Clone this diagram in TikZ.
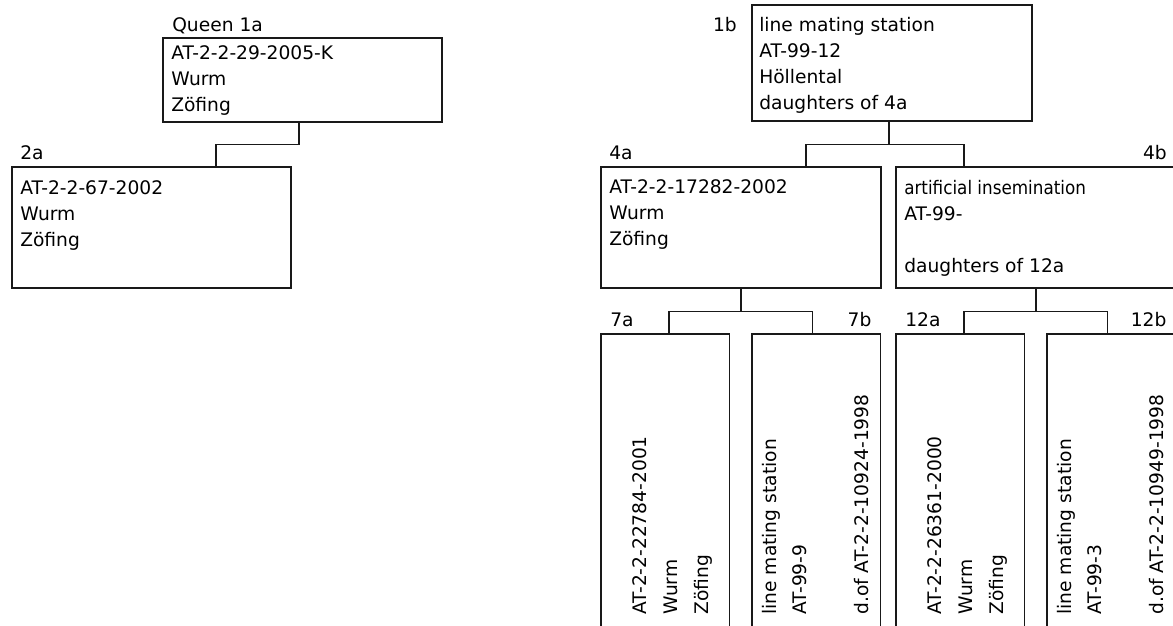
\documentclass[tikz,border=0pt]{standalone}
\usepackage{fontspec}
\setmainfont{DejaVu Sans}
\newfontfamily\condfont{DejaVu Sans Condensed}
\usetikzlibrary{calc}

\begin{document}
\begin{tikzpicture}[
        x=0.75pt, y=-0.75pt,
        font=\fontsize{14}{19.5}\selectfont,
        % Styles
        box/.style={draw=black!90, line width=0.8pt, inner sep=0pt, outer sep=0pt, anchor=north west},
        widebox/.style={box, minimum width=210pt, minimum height=90.75pt},
        tallbox/.style={box, minimum width=96.5pt, minimum height=240pt},
        info/.style={inner sep=0pt, align=left, anchor=base west},
        sideways/.style={info, rotate=90, font=\fontsize{14}{23}\selectfont},
        tag/.style={inner sep=0pt, anchor=base west},
        tagright/.style={inner sep=0pt, anchor=base east},
        link/.style={draw=black!90, line width=0.8pt}
    ]

    \path[use as bounding box, clip] (0,0) rectangle (1173,625);

    % Queen 1a and daughter 2a (left)
    % (info nodes sit on the baseline of their last line)
    \node[widebox, minimum width=209.25pt, minimum height=63pt] (q1a) at (163,38) {};
    \node[info] (t1a) at ($(q1a.north west)+(8,73)$) {AT-2-2-29-2005-K\\Wurm\\Zöfing};
    \node[tag] (l1a) at ($(q1a.north west)+(9,-7)$) {Queen 1a};

    \node[widebox, minimum width=209.25pt] (q2a) at (12,167) {};
    \node[info] (t2a) at ($(q2a.north west)+(8,79)$) {AT-2-2-67-2002\\Wurm\\Zöfing};
    \node[tag] (l2a) at ($(q2a.north west)+(8,-8)$) {2a};

    \draw[link] ($(q1a.south)+(-3.5,0)$) -- ++(0,22.5) -| ($(q2a.north east)+(-75,0)$);

    % Mating station 1b
    \node[widebox, minimum height=87pt] (q1b) at (752,5) {};
    \node[info] (t1b) at ($(q1b.north west)+(7,104.5)$) {line mating station\\AT-99-12\\Höllental\\daughters of 4a};
    \node[tagright] (l1b) at ($(q1b.north west)+(-15,26.5)$) {1b};

    % Generation 4
    \node[widebox] (q4a) at (601,167) {};
    \node[info] (t4a) at ($(q4a.north west)+(8,78.5)$) {AT-2-2-17282-2002\\Wurm\\Zöfing};
    \node[tag] (l4a) at ($(q4a.north west)+(8,-8)$) {4a};

    \node[widebox] (q4b) at (896,167) {};
    \node[info] (t4b) at ($(q4b.north west)+(8,105)$) {{\condfont artificial insemination}\\AT-99-\\[19.5pt]daughters of 12a};
    \node[tagright] (l4b) at ($(q4b.north east)+(-9,-8)$) {4b};

    \draw[link] ($(q1b.south)+(-3,0)$) -- ++(0,23.5) coordinate (j1b);
    \draw[link] ($(q4a.north east)+(-75,0)$) |- (j1b) -| ($(q4b.north west)+(68,0)$);

    % Generation 7 and 12 (rotated text)
    \node[tallbox] (q7a) at (601,334) {};
    \node[sideways] (t7a) at ($(q7a.north west)+(107,281)$) {AT-2-2-22784-2001\\Wurm\\Zöfing};
    \node[tag] (l7a) at ($(q7a.north west)+(9,-8)$) {7a};

    \node[tallbox] (q7b) at (752,334) {};
    \node[sideways] (t7b) at ($(q7b.north west)+(116,281)$) {line mating station\\AT-99-9\\[23pt]d.of AT-2-2-10924-1998};
    \node[tagright] (l7b) at ($(q7b.north east)+(-9,-8)$) {7b};

    \node[tallbox] (q12a) at (896,334) {};
    \node[sideways] (t12a) at ($(q12a.north west)+(107,281)$) {AT-2-2-26361-2000\\Wurm\\Zöfing};
    \node[tag] (l12a) at ($(q12a.north west)+(9,-8)$) {12a};

    \node[tallbox] (q12b) at (1047,334) {};
    \node[sideways] (t12b) at ($(q12b.north west)+(116,281)$) {line mating station\\AT-99-3\\[23pt]d.of AT-2-2-10949-1998};
    \node[tagright] (l12b) at ($(q12b.north east)+(-9,-8)$) {12b};

    \draw[link] (q4a.south) -- ++(0,23.5) coordinate (j4a);
    \draw[link] ($(q7a.north west)+(68,0)$) |- (j4a) -| ($(q7b.north east)+(-68,0)$);

    \draw[link] (q4b.south) -- ++(0,23.5) coordinate (j4b);
    \draw[link] ($(q12a.north west)+(68,0)$) |- (j4b) -| ($(q12b.north east)+(-68,0)$);

\end{tikzpicture}
\end{document}
